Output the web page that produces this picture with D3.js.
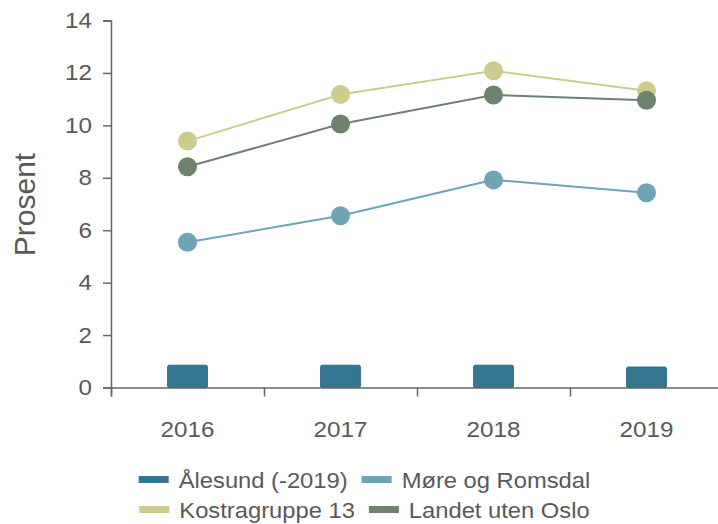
<!DOCTYPE html>
<html>
<head>
<meta charset="utf-8">
<script src="https://cdn.jsdelivr.net/npm/d3@7"></script>
<style>
  body { margin: 0; background: #fff; }
  svg { display: block; font-family: "Liberation Sans", Arial, sans-serif; }
</style>
</head>
<body>
<script>
// Data
const years = ["2016", "2017", "2018", "2019"];
const alesund = [0.85, 0.85, 0.85, 0.78];
const moreRomsdal = [5.54, 6.55, 7.92, 7.43];
const kostra13 = [9.40, 11.18, 12.08, 11.32];
const landetUtenOslo = [8.42, 10.05, 11.16, 10.96];
const yTicks = [0, 2, 4, 6, 8, 10, 12, 14];

const lineSeries = [
  {name: "Møre og Romsdal", values: moreRomsdal, color: "#6fa3b6"},
  {name: "Kostragruppe 13", values: kostra13, color: "#cccc8e"},
  {name: "Landet uten Oslo", values: landetUtenOslo, color: "#6e8270"}
];
const legendRows = [
  [{name: "Ålesund (-2019)", color: "#347592"}, {name: "Møre og Romsdal", color: "#6fa3b6"}],
  [{name: "Kostragruppe 13", color: "#cccc8e"}, {name: "Landet uten Oslo", color: "#6e8270"}]
];

const width = 718, height = 524;
const margin = {top: 20.5, left: 111, bottom: 136.5};
const plotRight = 723;
// text in the original is set a little wider than Liberation Sans
const stretch = 1.1;

const svg = d3.select("body").append("svg")
  .attr("width", width)
  .attr("height", height);

const x = d3.scaleBand()
  .domain(years)
  .range([margin.left, plotRight])
  .padding(0);

const xEdge = d3.scaleLinear()
  .domain([0, years.length])
  .range([margin.left, plotRight]);

const y = d3.scaleLinear()
  .domain([0, 14])
  .range([height - margin.bottom, margin.top]);

const textColor = "#595959";
const axisColor = "#666";

// y axis
const yAxis = svg.append("g")
  .attr("transform", `translate(${margin.left},0)`)
  .call(d3.axisLeft(y).tickValues(yTicks).tickSize(8).tickPadding(0));
yAxis.select(".domain").attr("stroke", axisColor).attr("stroke-width", 1.5);
yAxis.selectAll(".tick line").attr("stroke", axisColor).attr("stroke-width", 1.5);
yAxis.selectAll(".tick text")
  .attr("x", 0)
  .attr("transform", `translate(-19,0) scale(${stretch},1)`)
  .attr("fill", textColor)
  .attr("font-size", 22);

// bars
const barW = x.bandwidth() * 0.26;
svg.append("g").selectAll("rect")
  .data(alesund)
  .join("rect")
  .attr("x", (d, i) => x(years[i]) + x.bandwidth() / 2 - barW / 2)
  .attr("y", d => y(d))
  .attr("width", barW)
  .attr("height", d => y(0) - y(d))
  .attr("rx", 1.5)
  .attr("fill", "#347592")
  .attr("stroke", "#2d6a84")
  .attr("stroke-width", 1);

// x axis: ticks at band edges, labels at centres
const xAxisTicks = svg.append("g")
  .attr("transform", `translate(0,${y(0)})`)
  .call(d3.axisBottom(xEdge).tickValues(d3.range(years.length + 1)).tickSize(9).tickFormat(""));
xAxisTicks.select(".domain").attr("stroke", axisColor).attr("stroke-width", 1.5);
xAxisTicks.selectAll(".tick line").attr("stroke", axisColor).attr("stroke-width", 1.5);

const xAxisLabels = svg.append("g")
  .attr("transform", `translate(0,${y(0)})`)
  .call(d3.axisBottom(x).tickSize(0).tickPadding(34));
xAxisLabels.select(".domain").remove();
xAxisLabels.selectAll(".tick text")
  .attr("transform", `scale(${stretch},1)`)
  .attr("fill", textColor)
  .attr("font-size", 22);

// lines and points
const line = d3.line()
  .x((d, i) => x(years[i]) + x.bandwidth() / 2)
  .y(d => y(d));

const groups = svg.append("g").selectAll("g")
  .data(lineSeries)
  .join("g");

groups.append("path")
  .attr("d", d => line(d.values))
  .attr("fill", "none")
  .attr("stroke", d => d.color)
  .attr("stroke-width", 2);

groups.selectAll("circle")
  .data(d => d.values.map(v => ({v, color: d.color})))
  .join("circle")
  .attr("cx", (d, i) => x(years[i]) + x.bandwidth() / 2)
  .attr("cy", d => y(d.v))
  .attr("r", 9.5)
  .attr("fill", d => d.color);

// y label
svg.append("text")
  .attr("transform", `translate(35,${(152 + 257) / 2}) rotate(-90)`)
  .attr("text-anchor", "middle")
  .attr("fill", textColor)
  .attr("font-size", 30)
  .text("Prosent");

// legend: each row centred
const legendCx = 364.5, swatchW = 30, swatchGap = 10, itemGap = 14;
const rowBaselines = [488, 518];
legendRows.forEach((row, r) => {
  const g = svg.append("g");
  const items = g.selectAll("g").data(row).join("g");
  items.append("rect")
    .attr("x", 0)
    .attr("y", rowBaselines[r] - 12)
    .attr("width", swatchW)
    .attr("height", 7)
    .attr("fill", d => d.color);
  items.append("text")
    .attr("transform", `translate(${swatchW + swatchGap},${rowBaselines[r]}) scale(1.08,1)`)
    .attr("fill", textColor)
    .attr("font-size", 22)
    .text(d => d.name);
  const widths = items.nodes().map(n => n.getBBox().width);
  const total = d3.sum(widths) + itemGap * (row.length - 1);
  let cur = legendCx - total / 2;
  items.attr("transform", (d, i) => {
    const t = `translate(${cur},0)`;
    cur += widths[i] + itemGap;
    return t;
  });
});
</script>
</body>
</html>
